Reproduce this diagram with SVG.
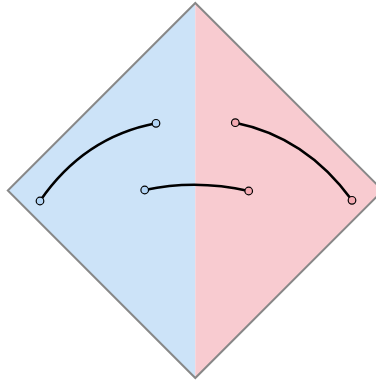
<svg xmlns="http://www.w3.org/2000/svg" width="376" height="383" viewBox="0 0 376 383">
<style>
.edge{fill:none;stroke:#000;stroke-width:2.6;stroke-linecap:round}
.nb{fill:#b3d5f5;stroke:#000;stroke-width:1.2}
.np{fill:#f4aab2;stroke:#000;stroke-width:1.2}
</style>
<g id="background">
<polygon points="195.3,3 195.3,378 7.8,190.5" fill="#cce3f8"/>
<polygon points="195.3,3 382.8,190.5 195.3,378" fill="#f8cbd0"/>
<polygon points="195.3,3 382.8,190.5 195.3,378 7.8,190.5" fill="none" stroke="#888" stroke-width="2"/>
</g>
<g id="connectors">
<path class="edge" d="M40,201 Q84,137 156,123.3"/>
<path class="edge" d="M235.3,122.7 Q306,137 352,200.3"/>
<path class="edge" d="M144.7,190 Q196,179 248.7,191"/>
</g>
<g id="n1"><circle class="nb" cx="40" cy="201" r="3.8"/></g>
<g id="n2"><circle class="nb" cx="156" cy="123.3" r="3.8"/></g>
<g id="n3"><circle class="np" cx="235.3" cy="122.7" r="3.8"/></g>
<g id="n4"><circle class="np" cx="352" cy="200.3" r="3.8"/></g>
<g id="n5"><circle class="nb" cx="144.7" cy="190" r="3.8"/></g>
<g id="n6"><circle class="np" cx="248.7" cy="191" r="3.8"/></g>
</svg>
